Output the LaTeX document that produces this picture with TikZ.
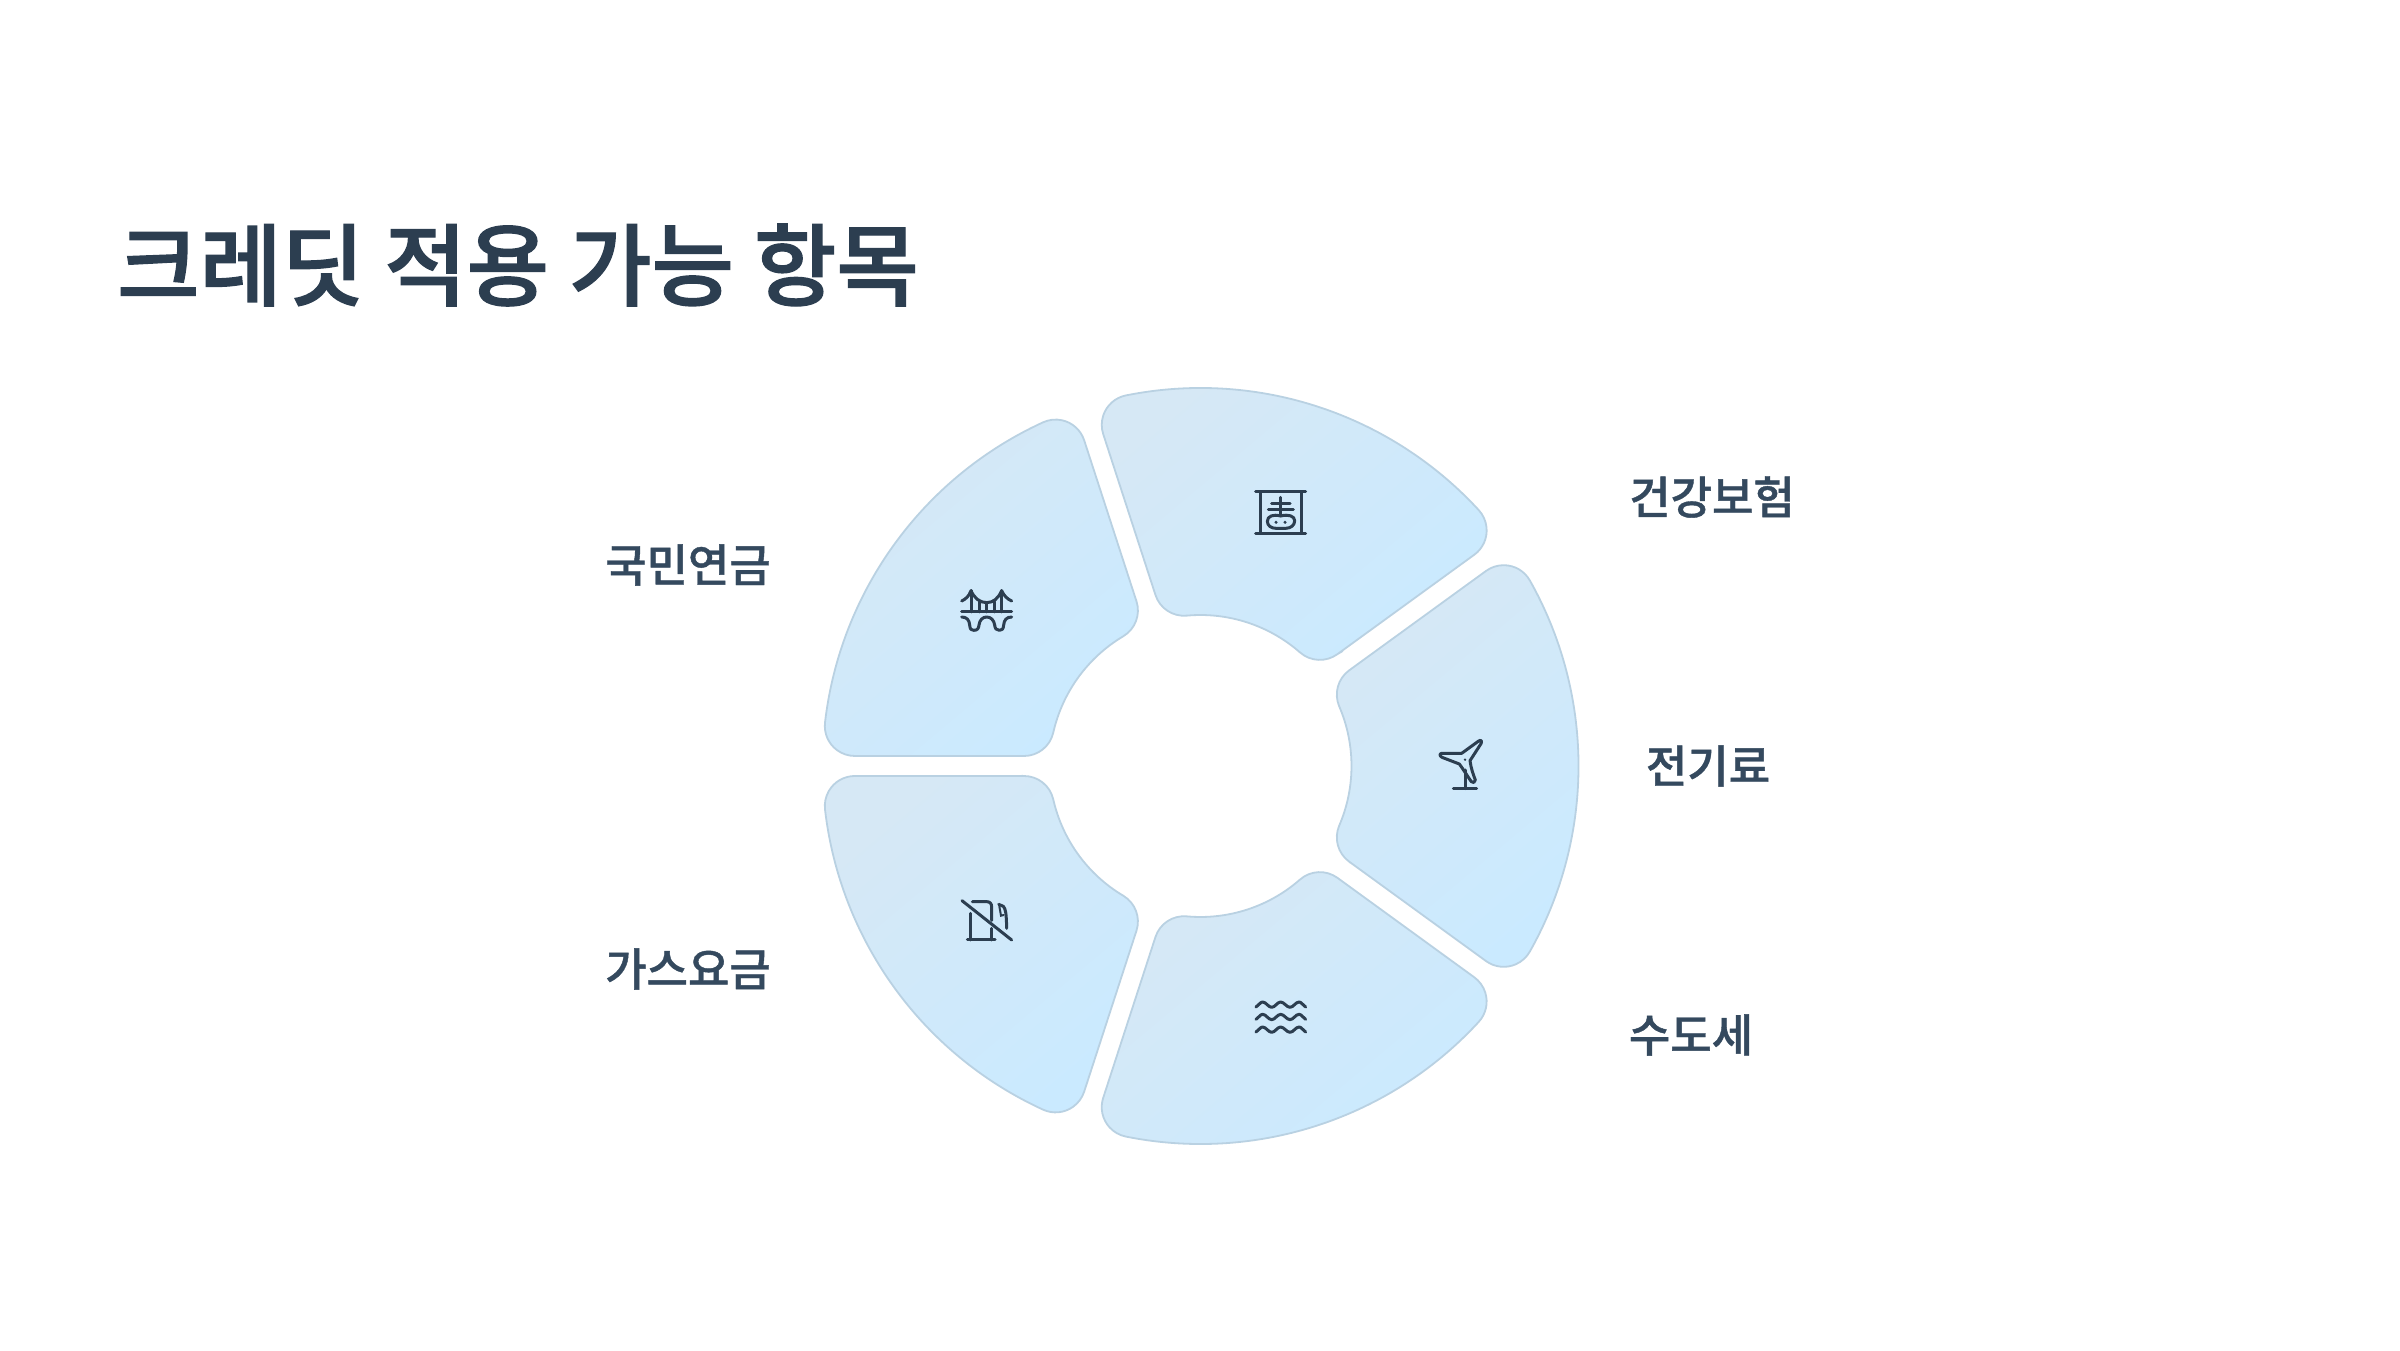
\documentclass[tikz,border=0pt]{standalone}
\usepackage{fontspec}
\setmainfont{Noto Sans CJK KR Medium}
\newfontfamily\headfont[FakeBold=1.5]{Noto Sans CJK KR Medium}
\newfontfamily\labfont[FakeBold=0.9]{Noto Sans CJK KR Medium}
\usetikzlibrary{calc}
\definecolor{inkdark}{HTML}{2C3E50}
\definecolor{inklabel}{HTML}{34495E}
\definecolor{petalA}{HTML}{D6E8F5}
\definecolor{petalB}{HTML}{CAEAFF}
\definecolor{petalE}{HTML}{B9D1E2}
\tikzset{
  petal/.style={draw=petalE,line width=1.8pt,top color=petalA,bottom color=petalB,shading angle=40},
  iconline/.style={draw=inkdark,line width=3pt,line cap=round,line join=round},
  lab/.style={text=inklabel,font=\labfont\fontsize{45}{50}\selectfont,inner sep=0pt,anchor=center},
  ttl/.style={text=inkdark,font=\headfont\fontsize{89.5}{100}\selectfont,inner sep=0pt,anchor=center},
  zoomed/.style={x=0.33333pt,y=-0.33333pt}
}
% constants: R=378, r=151, half gap=10, fillet=30, do=6.6, di=12.77, dO=345.7, dI=176.5
\newcommand{\drawpetal}[2]{%
  \pgfmathsetmacro{\ang}{#1}\pgfmathsetmacro{\bng}{#2}%
  \path[petal]
    ($(O)+(\ang:176.5pt)+(\ang+90:10pt)$) --
    ($(O)+(\ang:345.7pt)+(\ang+90:10pt)$)
    arc[start angle=\ang-90,end angle=\ang+6.6,radius=30pt]
    arc[start angle=\ang+6.6,end angle=\bng-6.6,radius=378pt]
    arc[start angle=\bng-6.6,end angle=\bng+90,radius=30pt]
    -- ($(O)+(\bng:176.5pt)+(\bng-90:10pt)$)
    arc[start angle=\bng+90,end angle=\bng-12.77+180,radius=30pt]
    arc[start angle=\bng-12.77,end angle=\ang+12.77,radius=151pt]
    arc[start angle=\ang+12.77+180,end angle=\ang+270,radius=30pt]
    -- cycle;
}
\begin{document}
\begin{tikzpicture}[x=1pt,y=1pt]
\useasboundingbox (0,0) rectangle (2400,1350);
\fill[white] (0,0) rectangle (2400,1350);
\coordinate (O) at (1200.5,584);
\drawpetal{36}{108}
\drawpetal{108}{180}
\drawpetal{180}{252}
\drawpetal{252}{324}
\drawpetal{324}{396}

\node[ttl] (title) at (518,1085) {크레딧 적용 가능 항목};
\node[lab] (l1) at (1712,853) {건강보험};
\node[lab] (l2) at (688,785) {국민연금};
\node[lab] (l3) at (1708,584) {전기료};
\node[lab] (l4) at (688,381) {가스요금};
\node[lab] (l5) at (1691,315) {수도세};

% scroll icon
\begin{scope}[shift={(1240,870)},zoomed]
\draw[iconline] (47,35) -- (197,35) (47,160) -- (197,160) (60,35) -- (60,160) (185,35) -- (185,160);
\draw[iconline] (122,52) -- (122,108) (95,70) -- (150,70) (85,88) -- (160,88);
\draw[iconline] (122,108) .. controls (100,102) and (82,108) .. (82,124)
  .. controls (82,138) and (95,145) .. (108,145) -- (137,145)
  .. controls (152,145) and (164,136) .. (164,122)
  .. controls (164,108) and (145,102) .. (122,108) -- cycle;
\fill[inkdark] (108,127) circle[radius=5] (135,127) circle[radius=5];
\end{scope}

% bridge icon
\begin{scope}[shift={(930,780)},zoomed]
\draw[iconline] (95,126) -- (245,126);
\draw[iconline] (123,62) -- (123,126) (215,62) -- (215,126) (148,95) -- (148,126) (170,98) -- (170,126) (193,95) -- (193,126);
\draw[iconline] (95,93) .. controls (108,87) and (117,78) .. (123,62)
  .. controls (133,85) and (150,98) .. (170,98)
  .. controls (190,98) and (205,85) .. (215,62)
  .. controls (222,78) and (232,87) .. (245,93);
\draw[iconline] (95,141) .. controls (110,141) and (118,150) .. (119,165)
  .. controls (120,178) and (124,181) .. (131,181)
  .. controls (142,181) and (146,176) .. (147,165)
  .. controls (149,150) and (158,141) .. (170,141)
  .. controls (182,141) and (192,150) .. (194,165)
  .. controls (195,176) and (199,181) .. (208,181)
  .. controls (216,181) and (220,178) .. (221,165)
  .. controls (222,150) and (230,141) .. (245,141);
\end{scope}

% turbine icon
\begin{scope}[shift={(1420,620)},zoomed]
\draw[iconline] (125,70) -- (176,33) .. controls (183,28) and (187,34) .. (183,41)
  -- (150,92) .. controls (153,115) and (160,135) .. (166,150)
  .. controls (166,158) and (158,160) .. (154,155)
  .. controls (140,135) and (130,118) .. (118,102)
  -- (66,82) .. controls (58,78) and (58,70) .. (66,70) -- (125,70) -- cycle;
\draw[iconline] (135,120) -- (135,176) (100,176) -- (170,176);
\fill[inkdark] (135,89) circle[radius=4];
\end{scope}

% fuel pump icon
\begin{scope}[shift={(940,465)},zoomed]
\draw[iconline] (66,47) -- (215,165);
\draw[iconline] (82,165) -- (165,165) (90,85) -- (90,165) (155,130) -- (155,165);
\draw[iconline] (97,50) -- (140,50) .. controls (150,50) and (155,56) .. (155,66) -- (155,106);
\draw[iconline] (176,58) -- (190,64) .. controls (197,72) and (199,85) .. (200,130);
\draw[line width=2pt,draw=inkdark,line cap=round] (178,64) -- (183,92) -- (191,90);
\end{scope}

% waves icon
\begin{scope}[shift={(1240,365)},zoomed]
\foreach \wy in {60,97,135}{
\draw[iconline] (48,\wy+6) .. controls (56,\wy+2) and (60,\wy-9) .. (68,\wy-9)
  .. controls (78,\wy-9) and (85,\wy+7) .. (95,\wy+7)
  .. controls (105,\wy+7) and (112,\wy-9) .. (122,\wy-9)
  .. controls (132,\wy-9) and (140,\wy+7) .. (150,\wy+7)
  .. controls (160,\wy+7) and (167,\wy-9) .. (177,\wy-9)
  .. controls (185,\wy-9) and (189,\wy+2) .. (197,\wy+6);
}
\end{scope}
\end{tikzpicture}
\end{document}
